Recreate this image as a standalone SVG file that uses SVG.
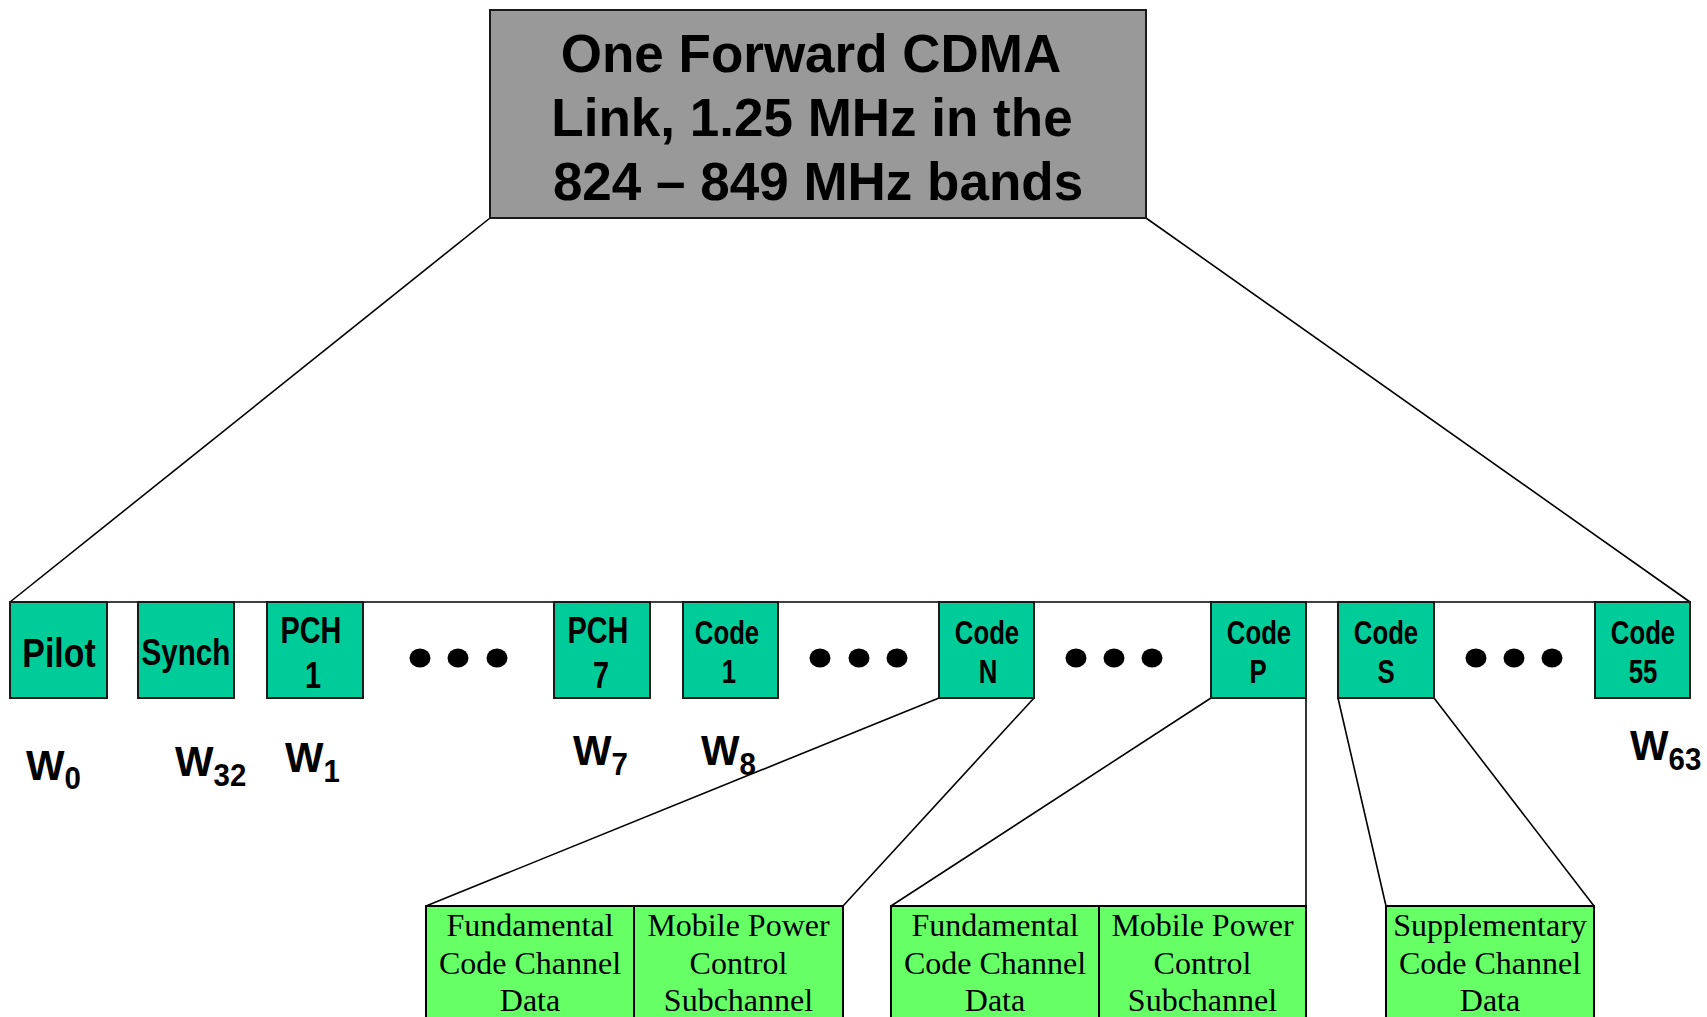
<svg xmlns="http://www.w3.org/2000/svg" width="1707" height="1017" viewBox="0 0 1707 1017">
  <style>
    .title { font-family: "Liberation Sans", Arial, sans-serif; font-weight: bold; font-size: 53px; fill: #000; text-anchor: middle; }
    .ch { fill: #00CC99; stroke: #1a1a1a; stroke-width: 2; }
    .chtxt { font-family: "Liberation Sans", Arial, sans-serif; font-weight: bold; fill: #000; text-anchor: middle; }
    .sub { fill: #66FF66; stroke: #000; stroke-width: 2; }
    .subtxt { font-family: "Liberation Serif", "Times New Roman", serif; font-size: 32px; fill: #000; text-anchor: middle; }
    .wl { font-family: "Liberation Sans", Arial, sans-serif; font-weight: bold; font-size: 43px; fill: #000; }
    .wi { font-size: 31px; }
    .ln { stroke: #000; stroke-width: 1.6; fill: none; }
    .dot { fill: #000; }
  </style>

  <!-- fan-out lines -->
  <g id="connectors">
    <line class="ln" x1="490" y1="218" x2="10" y2="602"/>
    <line class="ln" x1="1146" y1="218" x2="1690" y2="602"/>
    <line class="ln" x1="10" y1="602" x2="1690" y2="602" stroke="#333"/>
    <line class="ln" x1="939" y1="698" x2="426" y2="906"/>
    <line class="ln" x1="1034" y1="698" x2="843" y2="906"/>
    <line class="ln" x1="1211" y1="698" x2="891" y2="906"/>
    <line class="ln" x1="1306" y1="698" x2="1306" y2="906"/>
    <line class="ln" x1="1338" y1="698" x2="1386" y2="906"/>
    <line class="ln" x1="1434" y1="698" x2="1594" y2="906"/>
  </g>

  <!-- forward link box -->
  <g id="link">
    <rect x="490" y="10" width="656" height="208" fill="#999999" stroke="#1a1a1a" stroke-width="2"/>
    <text class="title" x="811" y="72">One Forward CDMA</text>
    <text class="title" x="812" y="136">Link, 1.25 MHz in the</text>
    <text class="title" x="818" y="200">824 – 849 MHz bands</text>
  </g>

  <!-- code channels -->
  <g id="pilot">
    <rect class="ch" x="10" y="602" width="97" height="96"/>
    <text class="chtxt" transform="matrix(0.846 0 0 1 59 0)" x="0" y="667" font-size="40">Pilot</text>
  </g>
  <g id="synch">
    <rect class="ch" x="138" y="602" width="96" height="96"/>
    <text class="chtxt" transform="matrix(0.8 0 0 1 186 0)" x="0" y="665" font-size="37">Synch</text>
  </g>
  <g id="pch1">
    <rect class="ch" x="267" y="602" width="96" height="96"/>
    <text class="chtxt" transform="matrix(0.78 0 0 1 311 0)" x="0" y="643" font-size="37">PCH</text>
    <text class="chtxt" transform="matrix(0.78 0 0 1 313 0)" x="0" y="688" font-size="37">1</text>
  </g>
  <g id="pch7">
    <rect class="ch" x="554" y="602" width="96" height="96"/>
    <text class="chtxt" transform="matrix(0.78 0 0 1 598 0)" x="0" y="643" font-size="37">PCH</text>
    <text class="chtxt" transform="matrix(0.78 0 0 1 601 0)" x="0" y="688" font-size="37">7</text>
  </g>
  <g id="code1">
    <rect class="ch" x="683" y="602" width="95" height="96"/>
    <text class="chtxt" transform="matrix(0.78 0 0 1 727 0)" x="0" y="644" font-size="33">Code</text>
    <text class="chtxt" transform="matrix(0.78 0 0 1 729 0)" x="0" y="683" font-size="33">1</text>
  </g>
  <g id="codeN">
    <rect class="ch" x="939" y="602" width="95" height="96"/>
    <text class="chtxt" transform="matrix(0.78 0 0 1 987 0)" x="0" y="644" font-size="33">Code</text>
    <text class="chtxt" transform="matrix(0.78 0 0 1 988 0)" x="0" y="683" font-size="33">N</text>
  </g>
  <g id="codeP">
    <rect class="ch" x="1211" y="602" width="95" height="96"/>
    <text class="chtxt" transform="matrix(0.78 0 0 1 1259 0)" x="0" y="644" font-size="33">Code</text>
    <text class="chtxt" transform="matrix(0.78 0 0 1 1258 0)" x="0" y="683" font-size="33">P</text>
  </g>
  <g id="codeS">
    <rect class="ch" x="1338" y="602" width="96" height="96"/>
    <text class="chtxt" transform="matrix(0.78 0 0 1 1386 0)" x="0" y="644" font-size="33">Code</text>
    <text class="chtxt" transform="matrix(0.78 0 0 1 1386 0)" x="0" y="683" font-size="33">S</text>
  </g>
  <g id="code55">
    <rect class="ch" x="1595" y="602" width="95" height="96"/>
    <text class="chtxt" transform="matrix(0.78 0 0 1 1643 0)" x="0" y="644" font-size="33">Code</text>
    <text class="chtxt" transform="matrix(0.78 0 0 1 1643 0)" x="0" y="683" font-size="33">55</text>
  </g>

  <!-- ellipsis dots -->
  <g id="dots">
    <ellipse class="dot" cx="420" cy="658" rx="10.5" ry="9.5"/>
    <ellipse class="dot" cx="458" cy="658" rx="10.5" ry="9.5"/>
    <ellipse class="dot" cx="497" cy="658" rx="10.5" ry="9.5"/>
    <ellipse class="dot" cx="820" cy="658" rx="10.5" ry="9.5"/>
    <ellipse class="dot" cx="859" cy="658" rx="10.5" ry="9.5"/>
    <ellipse class="dot" cx="897" cy="658" rx="10.5" ry="9.5"/>
    <ellipse class="dot" cx="1076" cy="658" rx="10.5" ry="9.5"/>
    <ellipse class="dot" cx="1114" cy="658" rx="10.5" ry="9.5"/>
    <ellipse class="dot" cx="1152" cy="658" rx="10.5" ry="9.5"/>
    <ellipse class="dot" cx="1476" cy="658" rx="10.5" ry="9.5"/>
    <ellipse class="dot" cx="1514" cy="658" rx="10.5" ry="9.5"/>
    <ellipse class="dot" cx="1552" cy="658" rx="10.5" ry="9.5"/>
  </g>

  <!-- Walsh code labels -->
  <g id="walsh">
    <text class="wl" transform="matrix(0.95 0 0 1 26 0)" x="0" y="780">W<tspan class="wi" dy="9">0</tspan></text>
    <text class="wl" transform="matrix(0.95 0 0 1 175 0)" x="0" y="776">W<tspan class="wi" dy="10">32</tspan></text>
    <text class="wl" transform="matrix(0.95 0 0 1 285 0)" x="0" y="772">W<tspan class="wi" dy="10">1</tspan></text>
    <text class="wl" transform="matrix(0.95 0 0 1 573 0)" x="0" y="765">W<tspan class="wi" dy="10">7</tspan></text>
    <text class="wl" transform="matrix(0.95 0 0 1 701 0)" x="0" y="765">W<tspan class="wi" dy="10">8</tspan></text>
    <text class="wl" transform="matrix(0.95 0 0 1 1630 0)" x="0" y="760">W<tspan class="wi" dy="10">63</tspan></text>
  </g>

  <!-- traffic channel sub-structure -->
  <g id="fundN">
    <rect class="sub" x="426" y="906" width="208" height="130"/>
    <text class="subtxt" x="530" y="936">Fundamental</text>
    <text class="subtxt" x="530" y="973.5">Code Channel</text>
    <text class="subtxt" x="530" y="1011">Data</text>
  </g>
  <g id="pwrN">
    <rect class="sub" x="634" y="906" width="209" height="130"/>
    <text class="subtxt" x="738.5" y="936">Mobile Power</text>
    <text class="subtxt" x="738.5" y="973.5">Control</text>
    <text class="subtxt" x="738.5" y="1011">Subchannel</text>
  </g>
  <g id="fundP">
    <rect class="sub" x="891" y="906" width="208" height="130"/>
    <text class="subtxt" x="995" y="936">Fundamental</text>
    <text class="subtxt" x="995" y="973.5">Code Channel</text>
    <text class="subtxt" x="995" y="1011">Data</text>
  </g>
  <g id="pwrP">
    <rect class="sub" x="1099" y="906" width="207" height="130"/>
    <text class="subtxt" x="1202.5" y="936">Mobile Power</text>
    <text class="subtxt" x="1202.5" y="973.5">Control</text>
    <text class="subtxt" x="1202.5" y="1011">Subchannel</text>
  </g>
  <g id="suppS">
    <rect class="sub" x="1386" y="906" width="208" height="130"/>
    <text class="subtxt" x="1490" y="936">Supplementary</text>
    <text class="subtxt" x="1490" y="973.5">Code Channel</text>
    <text class="subtxt" x="1490" y="1011">Data</text>
  </g>
</svg>
